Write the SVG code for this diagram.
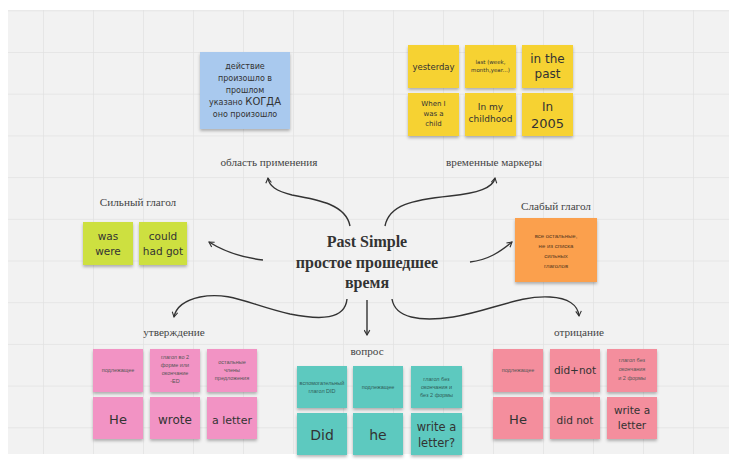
<svg xmlns="http://www.w3.org/2000/svg" width="737" height="463" viewBox="0 0 737 463">
<defs>
<pattern id="grid" x="43" y="52" width="50" height="41.7" patternUnits="userSpaceOnUse">
<path d="M0,0 V41.7 M0,0 H50" fill="none" stroke="#e2e2e2" stroke-width="1.5"/>
</pattern>
<filter id="sh" x="-10%" y="-10%" width="120%" height="130%">
<feDropShadow dx="0" dy="2" stdDeviation="1.5" flood-color="#000" flood-opacity="0.28"/>
</filter>
<marker id="ah" viewBox="0 0 10 10" refX="8" refY="5" markerWidth="7" markerHeight="7" orient="auto" markerUnits="userSpaceOnUse">
<path d="M1,1 L8,5 L1,9" fill="none" stroke="#333" stroke-width="1.6"/>
</marker>
</defs>
<style>
.lbl{font-family:"Liberation Serif",serif;font-size:11.2px;fill:#444;text-anchor:middle}
.hw{font-family:"DejaVu Sans","Liberation Sans",sans-serif;fill:#333;text-anchor:middle}
.sm{font-family:"Liberation Sans",sans-serif;fill:#555;text-anchor:middle;font-size:5.5px}
.title{font-family:"Liberation Serif",serif;font-weight:bold;font-size:16px;fill:#333;text-anchor:middle}
.conn path{fill:none;stroke:#333;stroke-width:1.4;marker-end:url(#ah)}
.note{filter:url(#sh)}
.blue{fill:#a9c9ee}.yel{fill:#f6d232}.grn{fill:#cde03f}.org{fill:#fba04e}.pnk{fill:#f293c4}.teal{fill:#5dc9bf}.sal{fill:#f48e9d}
</style>
<rect width="737" height="463" fill="#ffffff"/>
<rect x="8" y="10" width="721" height="444" fill="#f2f2f2"/>
<rect x="8" y="10" width="721" height="444" fill="url(#grid)"/>

<g id="center">
<text class="title" x="367" y="247">Past Simple</text>
<text class="title" x="367" y="268">простое прошедшее</text>
<text class="title" x="367" y="288">время</text>
</g>

<g class="conn" id="connectors">
<path d="M350,226 C346,205 320,200 292,195 C276,191 269,186 268,178"/>
<path d="M385,226 C389,205 412,200 450,196 C478,193 493,188 495,178"/>
<path d="M263,260 C245,258 225,252 209,242"/>
<path d="M470,262 C488,260 500,252 512,242"/>
<path d="M347,299 C345,320 320,320 290,314 C250,305 230,291 200,297 C186,300 176,307 174,317"/>
<path d="M367,300 L367,335"/>
<path d="M392,299 C395,318 420,322 453,317 C490,311 520,295 550,297 C568,298 578,305 579,316"/>
</g>

<g id="usage">
<text class="lbl" x="269" y="166">область применения</text>
<rect class="note blue" x="200" y="52" width="90" height="77"/>
<g class="hw" font-size="8">
<text x="245" y="69">действие</text>
<text x="245" y="81">произошло в</text>
<text x="245" y="93">прошлом</text>
<text x="245" y="105">указано <tspan font-size="10">КОГДА</tspan></text>
<text x="245" y="117">оно произошло</text>
</g>
</g>

<g id="markers">
<text class="lbl" x="494" y="166">временные маркеры</text>
<rect class="note yel" x="408" y="45" width="51" height="43"/>
<rect class="note yel" x="465" y="45" width="51" height="43"/>
<rect class="note yel" x="522" y="45" width="51" height="43"/>
<rect class="note yel" x="408" y="93" width="51" height="43"/>
<rect class="note yel" x="465" y="93" width="51" height="43"/>
<rect class="note yel" x="522" y="93" width="51" height="43"/>
<g class="hw">
<text x="433.5" y="70" font-size="8.5">yesterday</text>
<text x="490.5" y="64" font-size="5.5">last (week,</text>
<text x="490.5" y="72" font-size="5.5">month,year...)</text>
<text x="547.5" y="63" font-size="12">in the</text>
<text x="547.5" y="78" font-size="12">past</text>
<text x="433.5" y="106" font-size="7">When I</text>
<text x="433.5" y="116" font-size="7">was a</text>
<text x="433.5" y="126" font-size="7">child</text>
<text x="490.5" y="110" font-size="9">In my</text>
<text x="490.5" y="122" font-size="9">childhood</text>
<text x="547.5" y="111" font-size="12">In</text>
<text x="547.5" y="128" font-size="13">2005</text>
</g>
</g>

<g id="strong">
<text class="lbl" x="138" y="206">Сильный глагол</text>
<rect class="note grn" x="83" y="222" width="50" height="43"/>
<rect class="note grn" x="139" y="222" width="48" height="43"/>
<g class="hw" font-size="10.5">
<text x="108" y="240">was</text>
<text x="108" y="255">were</text>
<text x="163" y="240">could</text>
<text x="163" y="255">had got</text>
</g>
</g>

<g id="weak">
<text class="lbl" x="556" y="210">Слабый глагол</text>
<rect class="note org" x="515" y="218" width="82" height="64"/>
<g class="sm" style="fill:#5a3a20">
<text x="556" y="238" font-size="6">все остальные,</text>
<text x="556" y="248" font-size="6">не из списка</text>
<text x="556" y="258" font-size="6">сильных</text>
<text x="556" y="268" font-size="6">глаголов</text>
</g>
</g>

<g id="affirmative">
<text class="lbl" x="174" y="336">утверждение</text>
<rect class="note pnk" x="93" y="349" width="50" height="43"/>
<rect class="note pnk" x="150" y="349" width="50" height="43"/>
<rect class="note pnk" x="207" y="349" width="50" height="43"/>
<rect class="note pnk" x="93" y="397" width="50" height="42"/>
<rect class="note pnk" x="150" y="397" width="50" height="42"/>
<rect class="note pnk" x="207" y="397" width="50" height="42"/>
<text class="sm" x="118" y="372">подлежащее</text>
<text class="sm" x="175" y="359">глагол во 2</text>
<text class="sm" x="175" y="367">форме или</text>
<text class="sm" x="175" y="375">окончание</text>
<text class="sm" x="175" y="383">-ED</text>
<text class="sm" x="232" y="364">остальные</text>
<text class="sm" x="232" y="372">члены</text>
<text class="sm" x="232" y="380">предложения</text>
<g class="hw">
<text x="118" y="424" font-size="13">He</text>
<text x="175" y="424" font-size="12">wrote</text>
<text x="232" y="424" font-size="11">a letter</text>
</g>
</g>

<g id="question">
<text class="lbl" x="367" y="355">вопрос</text>
<rect class="note teal" x="297" y="366" width="50" height="42"/>
<rect class="note teal" x="353" y="366" width="50" height="42"/>
<rect class="note teal" x="411" y="366" width="51" height="42"/>
<rect class="note teal" x="297" y="413" width="50" height="42"/>
<rect class="note teal" x="353" y="413" width="50" height="42"/>
<rect class="note teal" x="411" y="413" width="51" height="42"/>
<text class="sm" x="322" y="385" style="fill:#2f5e5a">вспомогательный</text>
<text class="sm" x="322" y="393" style="fill:#2f5e5a">глагол DID</text>
<text class="sm" x="378" y="389" style="fill:#2f5e5a">подлежащее</text>
<text class="sm" x="436.5" y="381" style="fill:#2f5e5a">глагол без</text>
<text class="sm" x="436.5" y="389" style="fill:#2f5e5a">окончания и</text>
<text class="sm" x="436.5" y="397" style="fill:#2f5e5a">без 2 формы</text>
<g class="hw">
<text x="322" y="440" font-size="14">Did</text>
<text x="378" y="440" font-size="14">he</text>
<text x="436.5" y="431" font-size="11.5">write a</text>
<text x="436.5" y="447" font-size="11.5">letter?</text>
</g>
</g>

<g id="negative">
<text class="lbl" x="579" y="336">отрицание</text>
<rect class="note sal" x="493" y="349" width="50" height="43"/>
<rect class="note sal" x="550" y="349" width="50" height="43"/>
<rect class="note sal" x="607" y="349" width="50" height="43"/>
<rect class="note sal" x="493" y="397" width="50" height="42"/>
<rect class="note sal" x="550" y="397" width="50" height="42"/>
<rect class="note sal" x="607" y="397" width="50" height="42"/>
<text class="sm" x="518" y="372">подлежащее</text>
<text class="sm" x="632" y="362">глагол без</text>
<text class="sm" x="632" y="371">окончания</text>
<text class="sm" x="632" y="380">и 2 формы</text>
<g class="hw">
<text x="575" y="374" font-size="10.5">did+not</text>
<text x="518" y="424" font-size="13">He</text>
<text x="575" y="424" font-size="10.5">did not</text>
<text x="632" y="414" font-size="10.5">write a</text>
<text x="632" y="429" font-size="10.5">letter</text>
</g>
</g>
</svg>
